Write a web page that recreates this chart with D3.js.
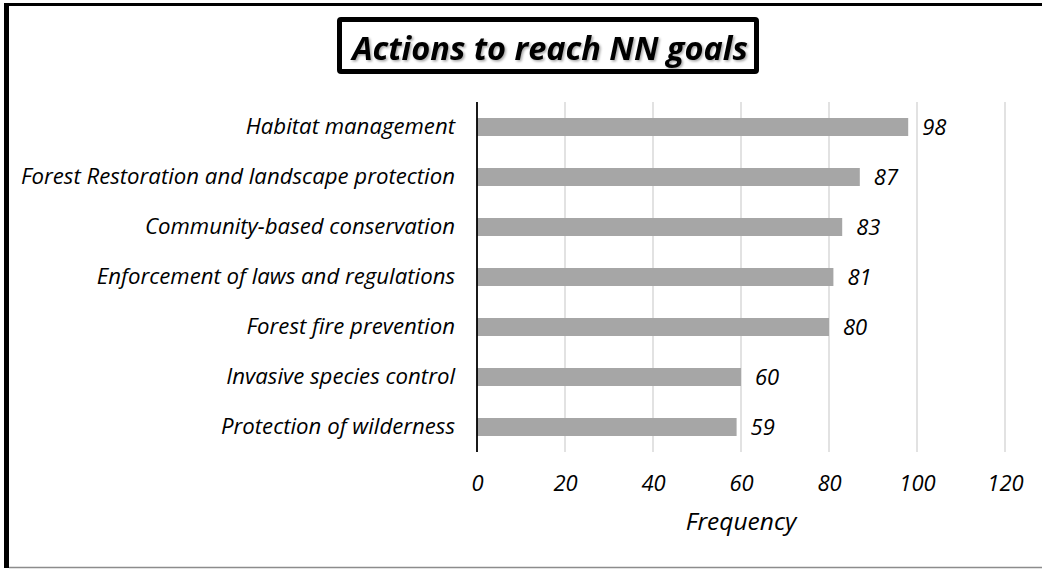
<!DOCTYPE html>
<html>
<head>
<meta charset="utf-8">
<script src="https://cdn.jsdelivr.net/npm/d3@7"></script>
<style>
  html, body { margin: 0; padding: 0; background: #fff; }
  svg { display: block; }
  text { font-family: "Open Sans", sans-serif; font-style: italic; }
</style>
</head>
<body>
<svg id="chart" width="1042" height="569"></svg>
<script>
const categories = [
  "Habitat management",
  "Forest Restoration and landscape protection",
  "Community-based conservation",
  "Enforcement of laws and regulations",
  "Forest fire prevention",
  "Invasive species control",
  "Protection of wilderness"
];
const values = [98, 87, 83, 81, 80, 60, 59];
const xTicks = [0, 20, 40, 60, 80, 100, 120];
const titleText = "Actions to reach NN goals";
const xAxisTitle = "Frequency";

const svg = d3.select("#chart");
const W = 1042, H = 569;
const FONT = "'Open Sans', sans-serif";

// frame
svg.append("rect").attr("x", 0).attr("y", 0).attr("width", W).attr("height", H).attr("fill", "#fff");
svg.append("line").attr("x1", 4).attr("x2", W).attr("y1", 4.5).attr("y2", 4.5).attr("stroke", "#000").attr("stroke-width", 3);
svg.append("line").attr("x1", 6.5).attr("x2", 6.5).attr("y1", 3).attr("y2", 568).attr("stroke", "#000").attr("stroke-width", 5);
svg.append("line").attr("x1", 9).attr("x2", W).attr("y1", 567.5).attr("y2", 567.5).attr("stroke", "#8c8c8c").attr("stroke-width", 1.5);

// shadow filter
const defs = svg.append("defs");
const f = defs.append("filter").attr("id", "shadow").attr("x", "-10%").attr("y", "-10%").attr("width", "120%").attr("height", "140%");
f.append("feDropShadow").attr("dx", 1.5).attr("dy", 1.5).attr("stdDeviation", 1).attr("flood-color", "#000").attr("flood-opacity", 0.35);

// title box
svg.append("rect").attr("x", 339.5).attr("y", 19.5).attr("width", 417).attr("height", 52)
  .attr("fill", "#fff").attr("stroke", "#000").attr("stroke-width", 5).attr("rx", 1.5);
svg.append("text").attr("x", 550).attr("y", 60).attr("text-anchor", "middle")
  .attr("font-size", 32.5).attr("font-weight", "bold").attr("fill", "#000")
  .attr("filter", "url(#shadow)")
  .text(titleText);

// scales
const x = d3.scaleLinear().domain([0, 120]).range([477, 1005]);
const y = d3.scaleBand().domain(categories).range([102, 452]).paddingInner(0.64).paddingOuter(0.32);

// gridlines
svg.append("g").selectAll("line").data(xTicks.filter(d => d > 0)).join("line")
  .attr("x1", d => x(d)).attr("x2", d => x(d)).attr("y1", 102).attr("y2", 452)
  .attr("stroke", "#d9d9d9").attr("stroke-width", 1.5);

// bars
svg.append("g").selectAll("rect").data(values).join("rect")
  .attr("x", x(0)).attr("y", (d, i) => y(categories[i]))
  .attr("width", d => x(d) - x(0)).attr("height", y.bandwidth())
  .attr("fill", "#a6a6a6");

// value labels
svg.append("g").selectAll("text").data(values).join("text")
  .attr("x", d => x(d) + 14).attr("y", (d, i) => y(categories[i]) + y.bandwidth() / 2)
  .attr("dy", "0.38em").attr("font-size", 22).attr("fill", "#000")
  .text(d => d);

// y axis
const yAxis = d3.axisLeft(y).tickSize(0).tickPadding(22);
const gy = svg.append("g").attr("transform", `translate(${x(0)},0)`).call(yAxis);
gy.select(".domain").attr("stroke", "#000").attr("stroke-width", 1.8).attr("d", "M0,102V452");
gy.selectAll("text").attr("font-size", 22.2).attr("fill", "#000").attr("font-family", FONT).attr("font-style", "italic");

// x axis
const xAxis = d3.axisBottom(x).tickValues(xTicks).tickSize(0).tickPadding(23);
const gx = svg.append("g").attr("transform", "translate(0,452)").call(xAxis);
gx.select(".domain").remove();
gx.selectAll("text").attr("font-size", 22).attr("fill", "#000").attr("font-family", FONT).attr("font-style", "italic");

// x axis title
svg.append("text").attr("x", 741).attr("y", 530).attr("text-anchor", "middle")
  .attr("font-size", 24.5).attr("fill", "#000").text(xAxisTitle);
</script>
</body>
</html>
